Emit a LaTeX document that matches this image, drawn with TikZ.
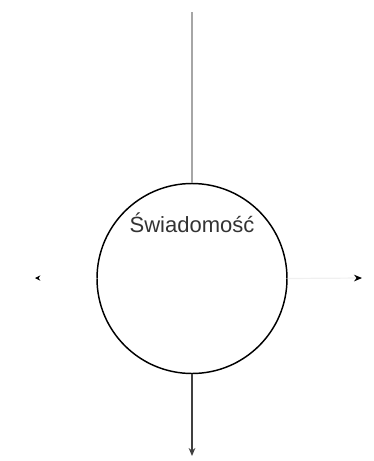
\documentclass[tikz,border=0pt]{standalone}
\usepackage{fontspec}
\setmainfont{Liberation Sans}
\usetikzlibrary{arrows.meta}
\begin{document}
\begin{tikzpicture}[x=0.75pt,y=-0.75pt,
  ring/.style={circle,draw=black,line width=1.1pt,minimum size=142.5pt,inner sep=0pt},
  lbl/.style={font=\fontsize{16.5}{19}\selectfont,text=black!80,inner sep=0pt},
  conn/.style={line width=0.9pt},
  tip/.style={-{Stealth[length=6pt,width=5pt]}}]
\useasboundingbox (0,0) rectangle (374,461);
\node[ring] (c) at (192,278.5) {};
\node[lbl] (t) at (192,223) {Świadomość};
\coordinate (top) at (192,12);
\coordinate (bot) at (192,456);
\coordinate (rgt) at (362,278);
\coordinate (lft) at (35,278);
\draw[conn,black!35] (c.north) -- (top);
\draw[conn,black!75,tip] (c.south) -- (bot);
\draw[conn,black!6,-{Stealth[length=6pt,width=5pt,fill=black,color=black]}] (c.east) -- (rgt);
\draw[conn,white,-{Stealth[length=4pt,width=4pt,fill=black,color=black]}] (c.west) -- (lft);
\end{tikzpicture}
\end{document}
